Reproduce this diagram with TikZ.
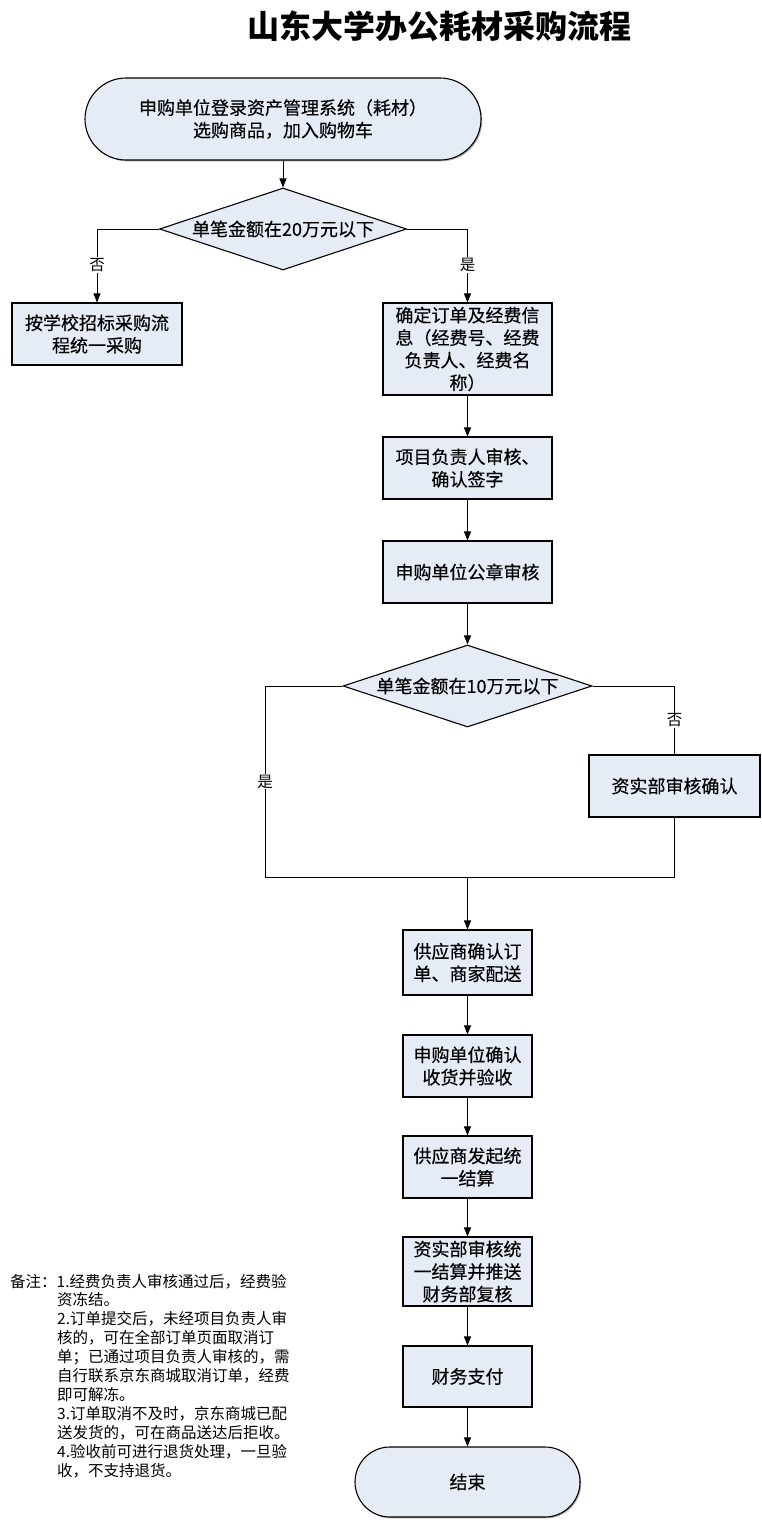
\documentclass[tikz,border=0pt]{standalone}
\usepackage{fontspec}
\newfontfamily\cjk{Noto Sans CJK SC}
\newfontfamily\cjkn{Noto Sans CJK SC}[FakeBold=0.4]
\usetikzlibrary{shapes.geometric,arrows.meta,shadows}
\definecolor{boxfill}{HTML}{E6ECF6}
\begin{document}
\begin{tikzpicture}[x=1pt,y=-1pt,
  shad/.style={drop shadow={shadow xshift=1.3pt,shadow yshift=-1.3pt,fill=black!40,opacity=0.8}},
  box/.style={draw, line width=1.1pt, fill=boxfill, align=center, inner sep=0pt,
    font=\cjkn\fontsize{18}{22.5}\selectfont, shad},
  term/.style={box},
  dia/.style={draw, line width=1.1pt, fill=boxfill, diamond, shape aspect=3, inner sep=0pt,
    font=\cjkn\fontsize{18}{22.5}\selectfont},
  conn/.style={line width=1pt},
  arr/.style={conn, -{Triangle[length=9pt,width=7pt]}},
  lbl/.style={fill=white, inner sep=1pt, font=\cjk\fontsize{15.5}{15.5}\selectfont},
  note/.style={inner sep=0pt, font=\cjk\fontsize{15.5}{19}\selectfont}]
\fill[white] (0,0) rectangle (761,1520);
\useasboundingbox (0,0) rectangle (761,1520);

\node (title) at (439,26) {\cjk\bfseries\fontsize{32}{32}\selectfont 山东大学办公耗材采购流程};

\node[term, rounded corners=41pt, minimum width=396pt, minimum height=82pt] (s) at (283,119)
  {申购单位登录资产管理系统（耗材）\\选购商品，加入购物车};
\node[dia, minimum width=247pt, minimum height=82pt] (d1) at (283,229) {单笔金额在20万元以下};
\node[box, minimum width=170pt, minimum height=62pt] (b1) at (97,334) {按学校招标采购流\\程统一采购};
\node[box, minimum width=169pt, minimum height=92pt] (b2) at (467.5,349)
  {确定订单及经费信\\息（经费号、经费\\负责人、经费名\\称）};
\node[box, minimum width=169pt, minimum height=62pt] (b3) at (467.5,468) {项目负责人审核、\\确认签字};
\node[box, minimum width=169pt, minimum height=62pt] (b4) at (467.5,572) {申购单位公章审核};
\node[dia, minimum width=249pt, minimum height=82pt] (d2) at (467.5,686) {单笔金额在10万元以下};
\node[box, minimum width=171pt, minimum height=62pt] (b9) at (674.5,786) {资实部审核确认};
\node[box, minimum width=129pt, minimum height=65pt] (b10) at (467.5,962.5) {供应商确认订\\单、商家配送};
\node[box, minimum width=129pt, minimum height=62pt] (b11) at (467.5,1066) {申购单位确认\\收货并验收};
\node[box, minimum width=129pt, minimum height=62pt] (b12) at (467.5,1167) {供应商发起统\\一结算};
\node[box, minimum width=129pt, minimum height=69pt] (b13) at (467.5,1271.5) {资实部审核统\\一结算并推送\\财务部复核};
\node[box, minimum width=129pt, minimum height=61pt] (b14) at (467.5,1376.5) {财务支付};
\node[term, rounded corners=35pt, minimum width=225pt, minimum height=70pt] (e) at (467.5,1482) {结束};

\coordinate (mL) at (265,877);
\coordinate (mR) at (674.5,877);
\coordinate (mC) at (467.5,877);

\draw[arr] (s) -- (d1);
\draw[arr] (d1.west) -| (b1.north) node[lbl,pos=0.745]{否};
\draw[arr] (d1.east) -| (b2.north) node[lbl,pos=0.745]{是};
\draw[arr] (b2) -- (b3);
\draw[arr] (b3) -- (b4);
\draw[arr] (b4) -- (d2);
\draw[conn] (d2.west) -| (mL) node[lbl,pos=0.75]{是};
\draw[conn] (d2.east) -| (b9.north) node[lbl,pos=0.75]{否};
\draw[conn] (b9.south) -- (mR);
\draw[conn] (mL) -- (mR);
\draw[arr] (mC) -- (b10);
\draw[arr] (b10) -- (b11);
\draw[arr] (b11) -- (b12);
\draw[arr] (b12) -- (b13);
\draw[arr] (b13) -- (b14);
\draw[arr] (b14) -- (e);

\node[note, anchor=west] (n1) at (10,1282) {备注：1.经费负责人审核通过后，经费验};
\node[note, anchor=north west, align=left] (n2) at (57,1292)
  {资冻结。\\
   2.订单提交后，未经项目负责人审\\
   核的，可在全部订单页面取消订\\
   单；已通过项目负责人审核的，需\\
   自行联系京东商城取消订单，经费\\
   即可解冻。\\
   3.订单取消不及时，京东商城已配\\
   送发货的，可在商品送达后拒收。\\
   4.验收前可进行退货处理，一旦验\\
   收，不支持退货。};
\end{tikzpicture}
\end{document}
